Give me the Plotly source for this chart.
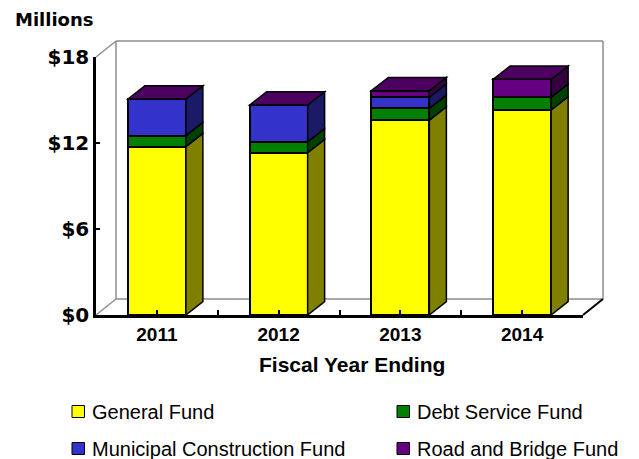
import plotly.graph_objects as go

# ---- data (millions of dollars) ----
years = ["2011", "2012", "2013", "2014"]
series_names = ["General Fund", "Debt Service Fund",
                "Municipal Construction Fund", "Road and Bridge Fund"]
general_fund = [11.74, 11.32, 13.60, 14.30]
debt_service_fund = [0.77, 0.75, 0.82, 0.89]
municipal_construction_fund = [2.56, 2.58, 0.77, 0.00]
road_and_bridge_fund = [0.00, 0.00, 0.46, 1.25]
y_tick_values = [0, 6, 12, 18]
y_tick_labels = ["$0", "$6", "$12", "$18"]

series_values = [general_fund, debt_service_fund,
                 municipal_construction_fund, road_and_bridge_fund]

# face colours per series: front, side, top
front_colors = ["#FFFF00", "#008000", "#3333CC", "#660080"]
side_colors = ["#808000", "#004000", "#1A1A66", "#330040"]
top_colors = ["#BFBF00", "#006000", "#26269A", "#4C0060"]

# ---- geometry ----
W, H = 639, 459
PL, PR, PT, PB = 96, 583, 57, 315          # plot area in pixels
n_cat = len(years)
px_per_cat = (PR - PL) / n_cat
px_per_unit = (PB - PT) / 18.0
BAR_W = 58 / px_per_cat                      # bar width in category units
DX = 17 / px_per_cat                         # bar depth, x (data units)
DY = 13.3 / px_per_unit                      # bar depth, y (data units)
WALL_DX, WALL_DY = 20, 16                    # wall depth in pixels

LABEL_FONT = "Liberation Sans, Arial, sans-serif"
TICK_FONT = "DejaVu Sans, Verdana, sans-serif"

x_pos = list(range(n_cat))

fig = go.Figure()

# front faces
for name, vals, col in zip(series_names, series_values, front_colors):
    fig.add_trace(go.Bar(
        x=x_pos, y=vals, name=name, width=BAR_W,
        marker=dict(color=col, line=dict(color="black", width=2)),
        showlegend=False, hoverinfo="skip",
    ))

shapes = []

# side and top faces of each stacked column
for i in x_pos:
    xr = i + BAR_W / 2
    xl = i - BAR_W / 2
    base = 0.0
    for s, vals in enumerate(series_values):
        v = vals[i]
        if v > 0:
            y0, y1 = base, base + v
            path = (f"M{xr},{y0} L{xr + DX},{y0 + DY} L{xr + DX},{y1 + DY} "
                    f"L{xr},{y1} Z")
            shapes.append(dict(type="path", path=path, xref="x", yref="y",
                               fillcolor=side_colors[s],
                               line=dict(color="black", width=1.5),
                               layer="above"))
        base += v
    top = base
    path = (f"M{xl},{top} L{xl + DX},{top + DY} L{xr + DX},{top + DY} "
            f"L{xr},{top} Z")
    shapes.append(dict(type="path", path=path, xref="x", yref="y",
                       fillcolor=top_colors[-1],
                       line=dict(color="black", width=1.5), layer="above"))


def px_to_paper(px, py):
    return (px - PL) / (PR - PL), (PB - py) / (PB - PT)


def wall_line(p0, p1, color="#8c8c8c", width=1.5):
    x0, y0 = px_to_paper(*p0)
    x1, y1 = px_to_paper(*p1)
    shapes.append(dict(type="line", xref="paper", yref="paper",
                       x0=x0, y0=y0, x1=x1, y1=y1,
                       line=dict(color=color, width=width), layer="below"))


# back walls and floor outline
bx0, by0 = PL + WALL_DX, PT - WALL_DY
bx1, by1 = PR + WALL_DX, PB - WALL_DY
wall_line((PL, PT), (bx0, by0))
wall_line((bx0, by0), (bx1, by0))
wall_line((bx1, by0), (bx1, by1))
wall_line((bx0, by0), (bx0, by1))
wall_line((bx0, by1), (bx1, by1))
wall_line((PL, PB), (bx0, by1))
wall_line((PR, PB), (bx1, by1), color="black", width=2)

annotations = []

# units label
mx, my = px_to_paper(13, 20)
annotations.append(dict(text="Millions", x=mx, y=my, xref="paper", yref="paper",
                        xanchor="left", yanchor="middle", showarrow=False,
                        font=dict(family=TICK_FONT, size=18, color="black",
                                  weight="bold")))

# axis title
tx, ty = px_to_paper(352, 364)
annotations.append(dict(text="Fiscal Year Ending", x=tx, y=ty, xref="paper",
                        yref="paper", xanchor="center", yanchor="middle",
                        showarrow=False,
                        font=dict(family=LABEL_FONT, size=21, color="black",
                                  weight="bold")))

# legend, two columns by two rows
legend_cols = [72, 397]
legend_rows = [411.5, 448.5]
for k, (name, col) in enumerate(zip(series_names, front_colors)):
    cx = legend_cols[k % 2]
    cy = legend_rows[k // 2]
    x0, y0 = px_to_paper(cx, cy + 6)
    x1, y1 = px_to_paper(cx + 12.5, cy - 6)
    shapes.append(dict(type="rect", xref="paper", yref="paper",
                       x0=x0, y0=y0, x1=x1, y1=y1, fillcolor=col,
                       line=dict(color="black", width=1)))
    lx, ly = px_to_paper(cx + 17.5, cy)
    annotations.append(dict(text=name, x=lx, y=ly, xref="paper", yref="paper",
                            xanchor="left", yanchor="middle", showarrow=False,
                            font=dict(family=LABEL_FONT, size=20,
                                      color="black")))

fig.update_layout(
    width=W, height=H,
    margin=dict(l=PL, r=W - PR, t=PT, b=H - PB, pad=0),
    barmode="stack",
    paper_bgcolor="white",
    plot_bgcolor="rgba(0,0,0,0)",
    showlegend=False,
    shapes=shapes,
    annotations=annotations,
    xaxis=dict(
        range=[-0.5, n_cat - 0.5], tickvals=x_pos, ticktext=years,
        showgrid=False, zeroline=False,
        showline=True, linecolor="black", linewidth=2.5,
        ticks="inside", ticklen=5, tickwidth=2, tickcolor="black",
        minor=dict(tickvals=[i + 0.5 for i in x_pos], ticks="inside",
                   ticklen=5, tickwidth=2, tickcolor="black"),
        tickfont=dict(family=LABEL_FONT, size=19, color="black",
                      weight="bold"),
        fixedrange=True,
    ),
    yaxis=dict(
        range=[0, 18], tickvals=y_tick_values, ticktext=y_tick_labels,
        showgrid=False, zeroline=False,
        showline=True, linecolor="black", linewidth=2.5,
        ticks="inside", ticklen=4, tickwidth=2, tickcolor="black",
        tickfont=dict(family=TICK_FONT, size=20, color="black",
                      weight="bold"),
        fixedrange=True,
    ),
)

fig.write_html("out.html", config={"displayModeBar": False})
